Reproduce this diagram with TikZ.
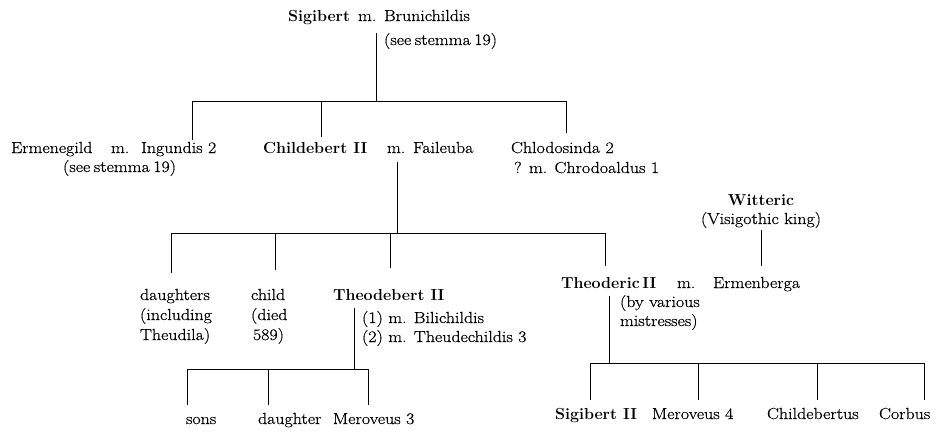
\documentclass[tikz,border=0pt]{standalone}
\usepackage{fontspec}
\newfontfamily\regfont{Latin Modern Roman}[FakeStretch=1.12,FakeBold=0.5]
\newcommand\narrowsp{\spaceskip=3.5pt\relax}
\begin{document}
\begin{tikzpicture}[x=1pt,y=-1pt,
  every node/.style={inner sep=0pt,outer sep=0pt,font=\fontsize{16}{19}\selectfont\regfont},
  lbl/.style={anchor=base west},
  nm/.style={anchor=base west,font=\fontsize{16}{19}\selectfont\rmfamily\bfseries},
  nmc/.style={anchor=base,font=\fontsize{16}{19}\selectfont\rmfamily\bfseries},
  lblc/.style={anchor=base},
  link/.style={line width=0.9pt}]
\useasboundingbox[fill=white] (0,0) rectangle (952,434);

% generation 1
\node[nm]  (sig)   at (288,21) {Sigibert};
\node[lbl] (sigm)  at (358,21) {m.};
\node[lbl] (bru)   at (384,21) {Brunichildis};
\node[lbl] (brus)  at (384,45) {\narrowsp (see stemma 19)};

% generation 2
\node[lbl] (erm)   at (11,153) {Ermenegild};
\node[lbl] (ermm)  at (111,153) {m.};
\node[lbl] (ing)   at (141,153) {Ingundis 2};
\node[lbl] (ings)  at (63,172) {\narrowsp (see stemma 19)};
\node[nm]  (chi)   at (263,153) {Childebert II};
\node[lbl] (chim)  at (387,153) {m.};
\node[lbl] (fai)   at (413,153) {Faileuba};
\node[lbl] (chl)   at (511,153) {Chlodosinda 2};
\node[lbl] (chl2)  at (514,173) {? m. Chrodoaldus 1};

\node[nmc]  (wit)  at (761,205) {Witteric};
\node[lblc] (wit2) at (761,224) {(Visigothic king)};

% generation 3
\node[lbl] (dau1)  at (140,300) {daughters};
\node[lbl] (dau2)  at (140,320) {(including};
\node[lbl] (dau3)  at (140,340) {Theudila)};
\node[lbl] (chd1)  at (251,300) {child};
\node[lbl] (chd2)  at (251,320) {(died};
\node[lbl] (chd3)  at (253,340) {589)};
\node[nm]  (thb)   at (333,300) {Theodebert II};
\node[lbl] (thb1)  at (362,323) {(1) m. Bilichildis};
\node[lbl] (thb2)  at (362,342) {(2) m. Theudechildis 3};
\node[nm]  (thr)   at (561,288) {Theoderic\hspace{2.5pt}II};
\node[lbl] (thrm)  at (677,288) {m.};
\node[lbl] (ermb)  at (713,288) {Ermenberga};
\node[lbl] (thr1)  at (620,307) {(by various};
\node[lbl] (thr2)  at (620,326) {mistresses)};

% generation 4
\node[lbl] (sons)  at (186,424) {sons};
\node[lbl] (dtr)   at (258,424) {daughter};
\node[lbl] (mer3)  at (333,424) {Meroveus 3};
\node[nm]  (sig2)  at (555,419) {Sigibert II};
\node[lbl] (mer4)  at (652,419) {Meroveus 4};
\node[lbl] (chb)   at (767,419) {Childebertus};
\node[lbl] (cor)   at (879,419) {Corbus};

% junction coordinates
\coordinate (a0) at (376,33);  \coordinate (a1) at (376,101);
\coordinate (aL) at (192,101); \coordinate (aM) at (321,101); \coordinate (aR) at (566,101);
\coordinate (aLe) at (192,140); \coordinate (aMe) at (321,137); \coordinate (aRe) at (566,133);

\coordinate (b0) at (397,162); \coordinate (b1) at (397,233);
\coordinate (bA) at (171,233); \coordinate (bB) at (275,233); \coordinate (bC) at (390,233); \coordinate (bD) at (605,233);
\coordinate (bAe) at (171,273); \coordinate (bBe) at (275,270); \coordinate (bCe) at (390,268); \coordinate (bDe) at (605,266);

\coordinate (w0) at (761,230); \coordinate (w1) at (761,266);

\coordinate (c0) at (354,308); \coordinate (c1) at (354,369);
\coordinate (cA) at (187,369); \coordinate (cB) at (268,369); \coordinate (cC) at (368,369);
\coordinate (cAe) at (187,405); \coordinate (cBe) at (268,405); \coordinate (cCe) at (368,405);

\coordinate (d0) at (609,296); \coordinate (d1) at (609,363);
\coordinate (dA) at (590,363); \coordinate (dB) at (698,363); \coordinate (dC) at (817,363); \coordinate (dD) at (924,363);
\coordinate (dAe) at (590,400); \coordinate (dBe) at (698,400); \coordinate (dCe) at (817,400); \coordinate (dDe) at (924,400);

% connectors
\draw[link] (a0) -- (a1);
\draw[link] (aLe) -- (aL) -- (aR) -- (aRe);
\draw[link] (aM) -- (aMe);

\draw[link] (b0) -- (b1);
\draw[link] (bAe) -- (bA) -- (bD) -- (bDe);
\draw[link] (bB) -- (bBe);
\draw[link] (bC) -- (bCe);

\draw[link] (w0) -- (w1);

\draw[link] (c0) -- (c1);
\draw[link] (cAe) -- (cA) -- (cC) -- (cCe);
\draw[link] (cB) -- (cBe);

\draw[link] (d0) -- (d1);
\draw[link] (dAe) -- (dA) -- (dD) -- (dDe);
\draw[link] (dB) -- (dBe);
\draw[link] (dC) -- (dCe);
\end{tikzpicture}
\end{document}
